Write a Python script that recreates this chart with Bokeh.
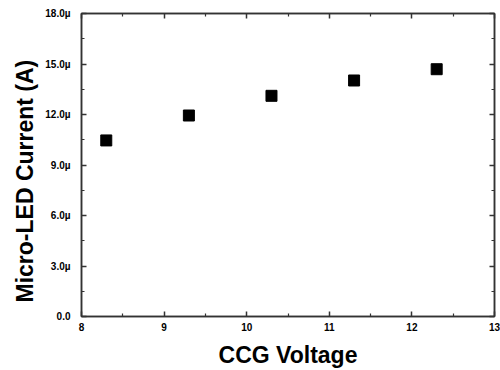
from bokeh.plotting import figure
from bokeh.models import (LinearAxis, FixedTicker, CustomJSTickFormatter, Range1d, Title)
from bokeh.embed import file_html
from bokeh.resources import INLINE

# Data
ccg_voltage = [8.3, 9.3, 10.3, 11.3, 12.3]
led_current = [10.46e-6, 11.94e-6, 13.11e-6, 14.02e-6, 14.69e-6]

x_ticks = [8, 9, 10, 11, 12, 13]
x_minor = [8.5, 9.5, 10.5, 11.5, 12.5]
y_ticks = [0, 3e-6, 6e-6, 9e-6, 12e-6, 15e-6, 18e-6]
y_minor = [1.5e-6, 4.5e-6, 7.5e-6, 10.5e-6, 13.5e-6, 16.5e-6]

x_title = "CCG Voltage"
y_title = "Micro-LED Current (A)"

FONT = "Liberation Sans"
AX_COLOR = "#333333"

p = figure(width=500, height=370, output_backend="svg", toolbar_location=None,
           x_range=Range1d(8, 13), y_range=Range1d(0, 18e-6),
           min_border_left=81, min_border_right=6, min_border_top=13,
           min_border_bottom=54, x_axis_label=x_title)
p.grid.visible = False
p.outline_line_color = AX_COLOR
p.outline_line_width = 1.5
p.background_fill_color = "white"
p.border_fill_color = "white"

p.scatter(ccg_voltage, led_current, marker="square", size=11,
          fill_color="black", line_color="black")

yfmt = CustomJSTickFormatter(code="""
    const v = tick * 1e6;
    if (Math.abs(v) < 1e-9) { return "0.0"; }
    return v.toFixed(1) + "\u00b5";
""")
blank = CustomJSTickFormatter(code="return '';")

def style_axis(ax, show_labels=True):
    ax.axis_line_color = AX_COLOR
    ax.axis_line_width = 1.5
    ax.major_tick_line_color = AX_COLOR
    ax.minor_tick_line_color = AX_COLOR
    ax.major_tick_line_width = 1.5
    ax.minor_tick_line_width = 1.2
    ax.major_tick_in = 5
    ax.major_tick_out = 0
    ax.minor_tick_in = 3
    ax.minor_tick_out = 0
    ax.major_label_text_font = FONT
    ax.major_label_text_font_style = "bold"
    ax.major_label_text_font_size = "10px"
    ax.major_label_text_color = "black"
    ax.axis_label_text_font = FONT
    ax.axis_label_text_font_style = "bold"
    ax.axis_label_text_font_size = "23px"
    ax.axis_label_text_color = "black"
    if not show_labels:
        ax.formatter = blank
        ax.major_label_standoff = 0

xb = p.xaxis[0]
xb.ticker = FixedTicker(ticks=x_ticks, minor_ticks=x_minor)
style_axis(xb)
xb.major_label_standoff = 6
xb.axis_label_standoff = 8

yl = p.yaxis[0]
yl.ticker = FixedTicker(ticks=y_ticks, minor_ticks=y_minor)
yl.formatter = yfmt
style_axis(yl)
yl.major_label_standoff = 11

xt = LinearAxis(ticker=FixedTicker(ticks=x_ticks, minor_ticks=x_minor))
style_axis(xt, show_labels=False)
p.add_layout(xt, "above")

yr = LinearAxis(ticker=FixedTicker(ticks=y_ticks, minor_ticks=y_minor))
style_axis(yr, show_labels=False)
p.add_layout(yr, "right")

# Y title placed as a side title so it can be offset along the axis
p.add_layout(Title(text=y_title, align="left", offset=14, vertical_align="bottom",
                   standoff=10, text_font=FONT, text_font_style="bold",
                   text_font_size="23px", text_color="black"), "left")

open("out.html", "w").write(file_html(p, INLINE))
